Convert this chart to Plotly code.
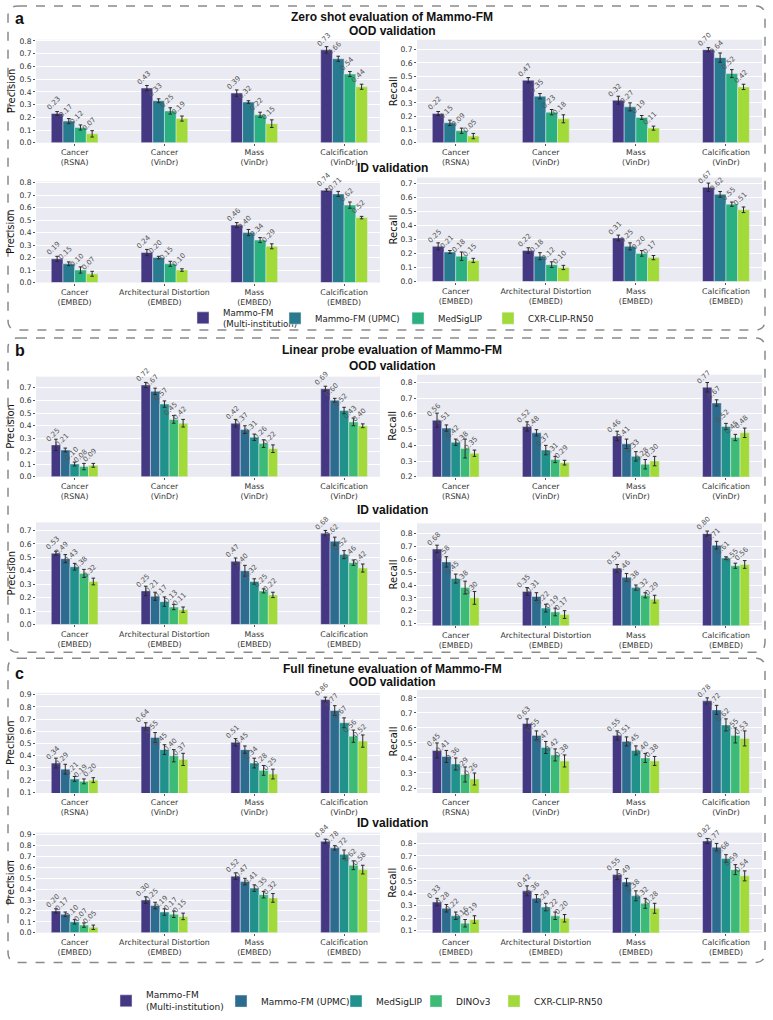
import plotly.graph_objects as go

W, H = 773, 1020

# ---------------- data ----------------
models_a = ["Mammo-FM<br>(Multi-institution)", "Mammo-FM (UPMC)", "MedSigLIP", "CXR-CLIP-RN50"]
colors_a = ["#453882", "#287A8E", "#2BB07F", "#A2DA39"]
models_bc = ["Mammo-FM<br>(Multi-institution)", "Mammo-FM (UPMC)", "MedSigLIP", "DINOv3", "CXR-CLIP-RN50"]
colors_bc = ["#453882", "#2D6C8E", "#21918C", "#3BBB75", "#A2DA39"]

ood_cats = ["Cancer<br>(RSNA)", "Cancer<br>(VinDr)", "Mass<br>(VinDr)", "Calcification<br>(VinDr)"]
id_cats = ["Cancer<br>(EMBED)", "Architectural Distortion<br>(EMBED)", "Mass<br>(EMBED)", "Calcification<br>(EMBED)"]

# values: one list per model, across the 4 categories
zs_ood_prec = [[0.23, 0.43, 0.39, 0.73], [0.17, 0.33, 0.32, 0.66], [0.12, 0.25, 0.22, 0.54], [0.07, 0.19, 0.15, 0.44]]
zs_ood_prec_err = [[0.015, 0.02, 0.025, 0.025], [0.02, 0.015, 0.01, 0.02], [0.02, 0.025, 0.02, 0.02], [0.025, 0.02, 0.03, 0.02]]
zs_ood_rec = [[0.22, 0.47, 0.32, 0.70], [0.15, 0.35, 0.27, 0.64], [0.09, 0.23, 0.19, 0.52], [0.05, 0.18, 0.11, 0.42]]
zs_ood_rec_err = [[0.015, 0.02, 0.03, 0.015], [0.02, 0.02, 0.03, 0.035], [0.02, 0.02, 0.015, 0.03], [0.02, 0.03, 0.015, 0.02]]
zs_id_prec = [[0.19, 0.24, 0.46, 0.74], [0.15, 0.20, 0.40, 0.71], [0.10, 0.15, 0.34, 0.62], [0.07, 0.10, 0.29, 0.52]]
zs_id_prec_err = [[0.02, 0.025, 0.02, 0.01], [0.015, 0.01, 0.025, 0.02], [0.025, 0.02, 0.02, 0.025], [0.02, 0.01, 0.02, 0.01]]
zs_id_rec = [[0.25, 0.22, 0.31, 0.67], [0.21, 0.18, 0.25, 0.62], [0.18, 0.12, 0.20, 0.55], [0.15, 0.10, 0.17, 0.51]]
zs_id_rec_err = [[0.025, 0.02, 0.02, 0.03], [0.01, 0.025, 0.025, 0.02], [0.03, 0.02, 0.02, 0.015], [0.015, 0.015, 0.015, 0.02]]

lp_ood_prec = [[0.25, 0.72, 0.42, 0.69], [0.21, 0.67, 0.37, 0.60], [0.10, 0.57, 0.31, 0.52], [0.08, 0.45, 0.26, 0.43], [0.09, 0.42, 0.22, 0.40]]
lp_ood_prec_err = [[0.045, 0.02, 0.03, 0.02], [0.015, 0.025, 0.03, 0.015], [0.015, 0.025, 0.025, 0.025], [0.025, 0.03, 0.03, 0.03], [0.015, 0.03, 0.03, 0.015]]
lp_ood_rec = [[0.56, 0.52, 0.46, 0.77], [0.51, 0.48, 0.41, 0.67], [0.42, 0.37, 0.33, 0.52], [0.38, 0.31, 0.28, 0.45], [0.35, 0.29, 0.30, 0.48]]
lp_ood_rec_err = [[0.045, 0.03, 0.03, 0.03], [0.02, 0.02, 0.03, 0.02], [0.02, 0.03, 0.03, 0.02], [0.06, 0.02, 0.03, 0.02], [0.02, 0.015, 0.03, 0.03]]
lp_id_prec = [[0.53, 0.25, 0.47, 0.68], [0.49, 0.21, 0.40, 0.62], [0.43, 0.17, 0.32, 0.52], [0.38, 0.13, 0.25, 0.46], [0.32, 0.11, 0.22, 0.42]]
lp_id_prec_err = [[0.015, 0.035, 0.025, 0.02], [0.03, 0.03, 0.04, 0.03], [0.025, 0.035, 0.02, 0.03], [0.03, 0.02, 0.015, 0.02], [0.025, 0.02, 0.02, 0.03]]
lp_id_rec = [[0.68, 0.35, 0.53, 0.80], [0.58, 0.31, 0.46, 0.71], [0.45, 0.22, 0.38, 0.61], [0.38, 0.19, 0.32, 0.55], [0.30, 0.17, 0.29, 0.56]]
lp_id_rec_err = [[0.03, 0.03, 0.03, 0.02], [0.04, 0.03, 0.03, 0.03], [0.035, 0.03, 0.02, 0.01], [0.05, 0.03, 0.02, 0.02], [0.05, 0.03, 0.03, 0.03]]

ft_ood_prec = [[0.34, 0.64, 0.51, 0.86], [0.29, 0.55, 0.45, 0.77], [0.21, 0.45, 0.34, 0.67], [0.19, 0.40, 0.28, 0.56], [0.20, 0.37, 0.25, 0.52]]
ft_ood_prec_err = [[0.04, 0.03, 0.03, 0.02], [0.04, 0.04, 0.03, 0.04], [0.02, 0.04, 0.04, 0.04], [0.02, 0.05, 0.04, 0.05], [0.02, 0.05, 0.04, 0.05]]
ft_ood_rec = [[0.45, 0.63, 0.55, 0.78], [0.41, 0.55, 0.51, 0.72], [0.36, 0.47, 0.45, 0.62], [0.29, 0.42, 0.40, 0.55], [0.26, 0.38, 0.38, 0.53]]
ft_ood_rec_err = [[0.05, 0.03, 0.03, 0.02], [0.04, 0.03, 0.03, 0.03], [0.04, 0.04, 0.03, 0.04], [0.05, 0.04, 0.03, 0.05], [0.04, 0.04, 0.03, 0.05]]
ft_id_prec = [[0.20, 0.30, 0.52, 0.84], [0.17, 0.25, 0.47, 0.78], [0.10, 0.19, 0.41, 0.72], [0.07, 0.17, 0.35, 0.62], [0.05, 0.15, 0.32, 0.58]]
ft_id_prec_err = [[0.02, 0.03, 0.03, 0.02], [0.02, 0.03, 0.03, 0.02], [0.02, 0.03, 0.03, 0.04], [0.02, 0.03, 0.03, 0.04], [0.02, 0.03, 0.04, 0.04]]
ft_id_rec = [[0.33, 0.42, 0.55, 0.82], [0.28, 0.36, 0.49, 0.77], [0.22, 0.29, 0.38, 0.68], [0.16, 0.22, 0.32, 0.59], [0.19, 0.20, 0.28, 0.54]]
ft_id_rec_err = [[0.03, 0.04, 0.04, 0.02], [0.03, 0.03, 0.03, 0.03], [0.03, 0.03, 0.04, 0.03], [0.03, 0.03, 0.04, 0.04], [0.03, 0.03, 0.04, 0.04]]

# ---------------- layout geometry (pixels) ----------------
COLX = [(36, 380), (417, 762)]
YTITLE_X = [11, 393]
# legend item positions (symbol centre x px, centre y px)
legend_a_pos = [205, 297, 420, 510]
legend_bc_pos = [128, 243, 358, 438, 516]
LEG_A_Y, LEG_BC_Y = 318, 1007

# (values, errors, cats, models, colors, col, top_px, bottom_px, yrange, ytitle, legend group)
subplots = [
    (zs_ood_prec, zs_ood_prec_err, ood_cats, models_a, colors_a, 0, 37, 141, [0, 0.81], "Precision", "a"),
    (zs_ood_rec, zs_ood_rec_err, ood_cats, models_a, colors_a, 1, 37, 141, [0, 0.775], "Recall", None),
    (zs_id_prec, zs_id_prec_err, id_cats, models_a, colors_a, 0, 180, 282, [0, 0.81], "Precision", None),
    (zs_id_rec, zs_id_rec_err, id_cats, models_a, colors_a, 1, 176, 281, [0, 0.74], "Recall", None),
    (lp_ood_prec, lp_ood_prec_err, ood_cats, models_bc, colors_bc, 0, 377, 478, [0, 0.785], "Precision", None),
    (lp_ood_rec, lp_ood_rec_err, ood_cats, models_bc, colors_bc, 1, 375, 478, [0.2, 0.85], "Recall", None),
    (lp_id_prec, lp_id_prec_err, id_cats, models_bc, colors_bc, 0, 524, 627, [0, 0.76], "Precision", None),
    (lp_id_rec, lp_id_rec_err, id_cats, models_bc, colors_bc, 1, 525, 628, [0.085, 0.88], "Recall", None),
    (ft_ood_prec, ft_ood_prec_err, ood_cats, models_bc, colors_bc, 0, 696, 797, [0.095, 0.915], "Precision", "bc"),
    (ft_ood_rec, ft_ood_rec_err, ood_cats, models_bc, colors_bc, 1, 693, 797, [0.167, 0.853], "Recall", None),
    (ft_id_prec, ft_id_prec_err, id_cats, models_bc, colors_bc, 0, 837, 938, [0, 0.92], "Precision", None),
    (ft_id_rec, ft_id_rec_err, id_cats, models_bc, colors_bc, 1, 837, 938, [0.084, 0.887], "Recall", None),
]

fig = go.Figure()
annotations = []
layout_axes = {}
legends = {}
GROUP = 0.52
leg_counter = [0]


def next_legend_name():
    leg_counter[0] += 1
    return "legend" if leg_counter[0] == 1 else f"legend{leg_counter[0]}"


for k, (vals, errs, cats, models, colors, col, top, bot, yr, ytitle, leg) in enumerate(subplots, start=1):
    xs = "x" if k == 1 else f"x{k}"
    ys = "y" if k == 1 else f"y{k}"
    n = len(models)
    w = GROUP / n
    for j in range(n):
        xpos = [i + (j - (n - 1) / 2) * w for i in range(len(cats))]
        legname = "legend"
        if leg is not None:
            legname = next_legend_name()
            if leg == "a":
                cx, cy, fs = legend_a_pos[j], LEG_A_Y, 8.6
            else:
                cx, cy, fs = legend_bc_pos[j], LEG_BC_Y, 9.0
            legends[legname] = dict(
                x=(cx - 22) / W, xanchor="left", y=1 - cy / H, yanchor="middle",
                bgcolor="rgba(0,0,0,0)", borderwidth=0, itemwidth=30,
                font=dict(size=fs, color="#222", family="DejaVu Sans"),
            )
        fig.add_trace(go.Bar(
            x=xpos, y=vals[j], width=w, xaxis=xs, yaxis=ys,
            name=models[j], legend=legname,
            showlegend=leg is not None,
            marker=dict(color=colors[j], line=dict(color="rgba(235,235,250,0.8)", width=0.6)),
            error_y=dict(type="data", array=errs[j], visible=True, color="#2a2a2a", thickness=1.0, width=1.8),
            hoverinfo="skip",
        ))
        for xp, v in zip(xpos, vals[j]):
            annotations.append(dict(
                x=xp, y=v, xref=xs, yref=ys, text=f"{v:.2f}", showarrow=False,
                textangle=-45, xanchor="center", yanchor="bottom", xshift=-3, yshift=-1,
                font=dict(size=7, color="#555555", family="DejaVu Sans"),
            ))
    x0, x1 = COLX[col]
    xa = dict(domain=[x0 / W, x1 / W], range=[-0.43, len(cats) - 0.6], tickmode="array",
              tickvals=list(range(len(cats))), ticktext=cats, showgrid=False, zeroline=False,
              ticks="outside", ticklen=2, tickcolor="#555", anchor=ys,
              tickfont=dict(size=7.8, color="#333", family="DejaVu Sans"), showline=False)
    ya = dict(domain=[1 - bot / H, 1 - top / H], range=yr, dtick=0.1, tick0=0, tickformat=".1f",
              showgrid=True, gridcolor="white", gridwidth=1, zeroline=False, anchor=xs,
              ticks="outside", ticklen=2, tickcolor="#555",
              tickfont=dict(size=7.6, color="#333", family="DejaVu Sans"))
    layout_axes["xaxis" if k == 1 else f"xaxis{k}"] = xa
    layout_axes["yaxis" if k == 1 else f"yaxis{k}"] = ya
    # y-axis title
    annotations.append(dict(x=YTITLE_X[col] / W, y=1 - (top + bot) / 2 / H, xref="paper", yref="paper",
                            text=ytitle, textangle=-90, showarrow=False, xanchor="center", yanchor="middle",
                            font=dict(size=10, color="#111", family="DejaVu Sans")))

# titles
TITLE_X = 392 / W
titles = [
    ("Zero shot evaluation of Mammo-FM", 14), ("OOD validation", 28), ("ID validation", 166),
    ("Linear probe evaluation of Mammo-FM", 350), ("OOD validation", 366), ("ID validation", 512),
    ("Full finetune evaluation of Mammo-FM", 672), ("OOD validation", 685), ("ID validation", 827),
]
for txt, ypx in titles:
    annotations.append(dict(x=TITLE_X, y=1 - ypx / H, xref="paper", yref="paper", text=f"<b>{txt}</b>",
                            showarrow=False, xanchor="center", yanchor="middle",
                            font=dict(size=12, color="#111", family="Liberation Sans")))
for lbl, ypx in [("a", 16), ("b", 351), ("c", 676)]:
    annotations.append(dict(x=13 / W, y=1 - ypx / H, xref="paper", yref="paper", text=f"<b>{lbl}</b>",
                            showarrow=False, xanchor="left", yanchor="middle",
                            font=dict(size=16, color="#111", family="Liberation Sans")))


# rounded dashed boxes
def rounded(x0, y0, x1, y1, r=10):
    X0, X1 = x0 / W, x1 / W
    Y0, Y1 = 1 - y0 / H, 1 - y1 / H
    rx, ry = r / W, r / H
    return (f"M {X0+rx},{Y0} L {X1-rx},{Y0} Q {X1},{Y0} {X1},{Y0-ry} L {X1},{Y1+ry} "
            f"Q {X1},{Y1} {X1-rx},{Y1} L {X0+rx},{Y1} Q {X0},{Y1} {X0},{Y1+ry} L {X0},{Y0-ry} "
            f"Q {X0},{Y0} {X0+rx},{Y0} Z")


shapes = []
for (y0, y1) in [(3, 330), (338, 655), (661, 968)]:
    shapes.append(dict(type="path", path=rounded(8, y0, 765, y1), xref="paper", yref="paper",
                       line=dict(color="#8a8a8a", width=1.5, dash="dash"), fillcolor="rgba(0,0,0,0)"))

fig.update_layout(
    width=W, height=H, margin=dict(l=0, r=0, t=0, b=0),
    paper_bgcolor="white", plot_bgcolor="#EAEAF2",
    barmode="overlay", annotations=annotations, shapes=shapes,
    **legends,
    **layout_axes,
)

fig.write_html("out.html")
